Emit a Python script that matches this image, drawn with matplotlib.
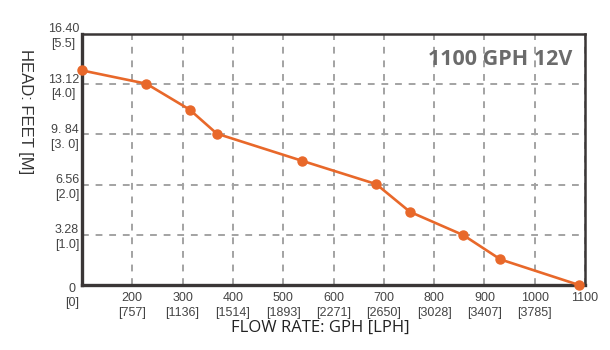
import numpy as np
import matplotlib
matplotlib.use("Agg")
import matplotlib.pyplot as plt
from matplotlib.transforms import ScaledTranslation

# pump curve
flow_gph = [0, 228, 314, 368, 538, 685, 752, 858, 932, 1088]
head_ft = [14.02, 13.15, 11.46, 9.89, 8.11, 6.59, 4.78, 3.26, 1.67, 0.0]

x_ticks = [0, 200, 300, 400, 500, 600, 700, 800, 900, 1000, 1100]
x_labels = ["", "200\n[757]", "300\n[1136]", "400\n[1514]", "500\n[1893]",
            "600\n[2271]", "700\n[2650]", "800\n[3028]", "900\n[3407]",
            "1000\n[3785]", "1100"]
y_ticks = [0, 3.28, 6.56, 9.84, 13.12, 16.40]
y_labels = ["0\n[0]", "3.28\n[1.0]", "6.56\n[2.0]", "9. 84\n[3. 0]",
            "13.12\n[4.0]", "16.40\n[5.5]"]

title = "1100 GPH 12V"
line_color = "#e8682a"
dark = "#3a3636"


# the first 200 GPH are squeezed into half a grid cell
def fwd(x):
    x = np.asarray(x, dtype=float)
    return np.where(x < 200, 100 + x / 2, x)


def inv(u):
    u = np.asarray(u, dtype=float)
    return np.where(u < 200, (u - 100) * 2, u)


W, H = 610, 350
fig = plt.figure(figsize=(W / 100, H / 100), dpi=100)
ax = fig.add_axes([82 / W, (H - 285) / H, 503 / W, 251 / H])
ax.set_xscale("function", functions=(fwd, inv))
ax.set_xlim(0, 1100)
ax.set_ylim(0, 16.40)

ax.plot(flow_gph, head_ft, color=line_color, lw=1.9, marker="o",
        markersize=6.5, clip_on=False, zorder=5)

tick_font = dict(family=["Liberation Sans", "DejaVu Sans"], size=9)
ax.set_xticks(x_ticks)
ax.set_xticklabels(x_labels, multialignment="center", color="#444444",
                   linespacing=1.3, **tick_font)
ax.set_yticks(y_ticks)
ax.set_yticklabels(y_labels, multialignment="center", color="#444444",
                   linespacing=1.3, **tick_font)
ax.tick_params(length=0)
ax.tick_params(axis="x", pad=5)
ax.tick_params(axis="y", pad=2)
# origin label sits a bit lower than the others
lbl0 = ax.get_yticklabels()[0]
lbl0.set_transform(lbl0.get_transform() + ScaledTranslation(0, -8 / 100, fig.dpi_scale_trans))

ax.grid(True, color="#a3a3a3", lw=1.4, ls=(0, (3.5, 3.5)))
ax.set_axisbelow(True)

for side in ["top", "right"]:
    ax.spines[side].set_linewidth(1.8)
    ax.spines[side].set_color(dark)
for side in ["left", "bottom"]:
    ax.spines[side].set_linewidth(2.4)
    ax.spines[side].set_color(dark)

ax.text(0.975, 0.9, title, transform=ax.transAxes, ha="right", va="center",
        fontsize=15.5, fontweight="bold", color="#6b6b6b",
        family=["Open Sans", "DejaVu Sans"])

fig.text(320 / W, 1 - 328 / H, "FLOW RATE: GPH [LPH]", ha="center", va="center",
         fontsize=12, color="#222222", family=["Open Sans", "DejaVu Sans"])
fig.text(25 / W, 1 - 112 / H, "HEAD: FEET [M]", ha="center", va="center",
         rotation=270, fontsize=12, color="#333333",
         family=["Liberation Sans", "DejaVu Sans"], stretch="condensed")

fig.savefig("out.png", dpi=100)
